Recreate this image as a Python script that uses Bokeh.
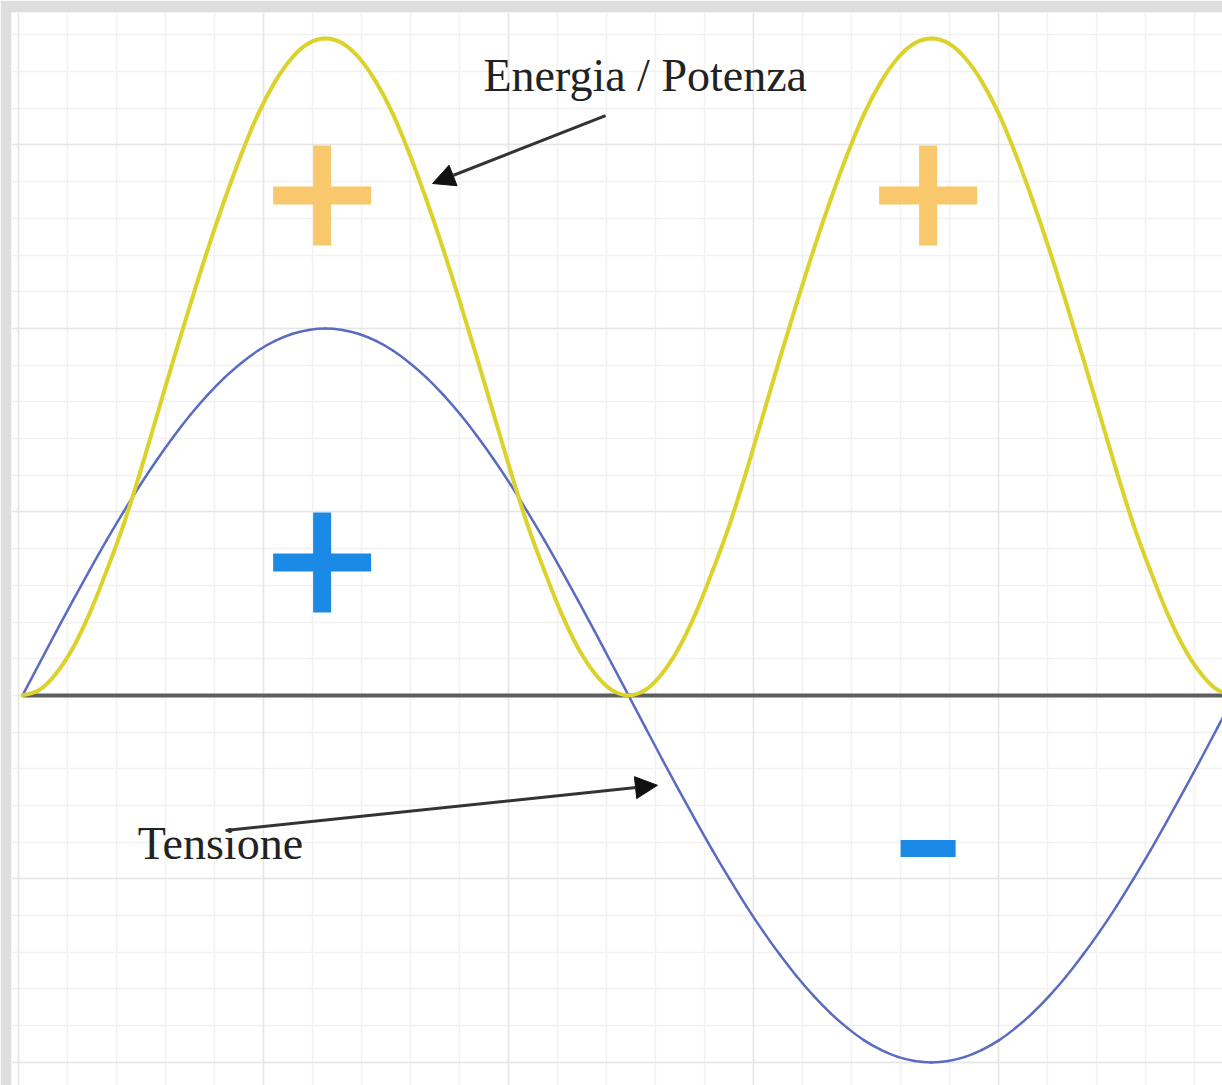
from bokeh.plotting import figure
from bokeh.models import Range1d, Grid, FixedTicker, Arrow, NormalHead, Label
from bokeh.embed import file_html
from bokeh.resources import INLINE
import numpy as np

# phase angle in degrees
angle_deg = list(range(0, 361, 5))

# voltage (tensione), one full period
tensione = [
    0.000, 0.087, 0.174, 0.259, 0.342, 0.423, 0.500, 0.574, 0.643, 0.707,
    0.766, 0.819, 0.866, 0.906, 0.940, 0.966, 0.985, 0.996, 1.000,
    0.996, 0.985, 0.966, 0.940, 0.906, 0.866, 0.819, 0.766, 0.707, 0.643,
    0.574, 0.500, 0.423, 0.342, 0.259, 0.174, 0.087, 0.000,
    -0.087, -0.174, -0.259, -0.342, -0.423, -0.500, -0.574, -0.643, -0.707,
    -0.766, -0.819, -0.866, -0.906, -0.940, -0.966, -0.985, -0.996, -1.000,
    -0.996, -0.985, -0.966, -0.940, -0.906, -0.866, -0.819, -0.766, -0.707,
    -0.643, -0.574, -0.500, -0.423, -0.342, -0.259, -0.174, -0.087, 0.000,
]

# energy / power, always positive
energia = [
    0.000, 0.015, 0.060, 0.130, 0.225, 0.340, 0.465, 0.610, 0.765, 0.920,
    1.070, 1.215, 1.350, 1.475, 1.585, 1.672, 1.737, 1.777, 1.790,
    1.777, 1.737, 1.672, 1.585, 1.475, 1.350, 1.215, 1.070, 0.920, 0.765,
    0.610, 0.465, 0.340, 0.225, 0.130, 0.060, 0.015, 0.000,
    0.015, 0.060, 0.130, 0.225, 0.340, 0.465, 0.610, 0.765, 0.920,
    1.070, 1.215, 1.350, 1.475, 1.585, 1.672, 1.737, 1.777, 1.790,
    1.777, 1.737, 1.672, 1.585, 1.475, 1.350, 1.215, 1.070, 0.920, 0.765,
    0.610, 0.465, 0.340, 0.225, 0.130, 0.060, 0.015, 0.000,
]

# sign markers: (angle, level, kind, colour)
sign_x = [89, 269, 89, 269]
sign_y = [1.362, 1.362, 0.362, -0.417]
sign_kind = ["+", "+", "+", "-"]
sign_color = ["#f9c76c", "#f9c76c", "#1b8ae6", "#1b8ae6"]


def smooth_segments(xs, ys):
    """Cubic Bezier pieces (Catmull-Rom) passing through every sample."""
    xs = np.asarray(xs, dtype=float)
    ys = np.asarray(ys, dtype=float)
    n = len(xs)
    x0, y0, x1, y1, cx0, cy0, cx1, cy1 = ([] for _ in range(8))
    for i in range(n - 1):
        im1 = max(i - 1, 0)
        ip2 = min(i + 2, n - 1)
        x0.append(xs[i]); y0.append(ys[i])
        x1.append(xs[i + 1]); y1.append(ys[i + 1])
        cx0.append(xs[i] + (xs[i + 1] - xs[im1]) / 6)
        cy0.append(ys[i] + (ys[i + 1] - ys[im1]) / 6)
        cx1.append(xs[i + 1] - (xs[ip2] - xs[i]) / 6)
        cy1.append(ys[i + 1] - (ys[ip2] - ys[i]) / 6)
    return dict(x0=x0, y0=y0, x1=x1, y1=y1, cx0=cx0, cy0=cy0, cx1=cx1, cy1=cy1)


p = figure(
    width=1222, height=1085,
    x_range=Range1d(-3.27, 356.44), y_range=Range1d(-1.063, 1.861),
    x_axis_type=None, y_axis_type=None,
    toolbar_location=None, output_backend="svg",
    min_border_left=11, min_border_top=12, min_border_right=0, min_border_bottom=0,
    border_fill_color="#dedede", background_fill_color="white",
    outline_line_color=None,
)

# graph-paper grid
minor_x = list(np.arange(-1.19, 360, 14.555))
major_x = list(np.arange(-1.19, 364, 72.78))
minor_y = [round(v, 2) for v in np.arange(-1.0, 1.85, 0.1)]
major_y = [-1.0, -0.5, 0.5, 1.0, 1.5]
p.add_layout(Grid(dimension=0, ticker=FixedTicker(ticks=minor_x),
                  grid_line_color="#f1f1f1", grid_line_width=1.5))
p.add_layout(Grid(dimension=1, ticker=FixedTicker(ticks=minor_y),
                  grid_line_color="#f1f1f1", grid_line_width=1.5))
p.add_layout(Grid(dimension=0, ticker=FixedTicker(ticks=major_x),
                  grid_line_color="#e6e6e6", grid_line_width=1.5))
p.add_layout(Grid(dimension=1, ticker=FixedTicker(ticks=major_y),
                  grid_line_color="#e6e6e6", grid_line_width=1.5))

# zero axis
p.segment(x0=[angle_deg[0]], y0=[0], x1=[angle_deg[-1]], y1=[0],
          line_color="#5e5e5e", line_width=4)

# curves
p.bezier(**smooth_segments(angle_deg, tensione),
         line_color="#5a6bc2", line_width=2.5, line_cap="round")
p.bezier(**smooth_segments(angle_deg, energia),
         line_color="#dcd22c", line_width=4, line_cap="round")

# + / - signs
for x, y, kind, c in zip(sign_x, sign_y, sign_kind, sign_color):
    if kind == "+":
        p.rect(x=[x], y=[y], width=98, height=18, width_units="screen",
               height_units="screen", fill_color=c, line_color=None)
        p.rect(x=[x], y=[y], width=18, height=100, width_units="screen",
               height_units="screen", fill_color=c, line_color=None)
    else:
        p.rect(x=[x], y=[y], width=55, height=17, width_units="screen",
               height_units="screen", fill_color=c, line_color=None)

# annotations
p.add_layout(Label(x=136.9, y=1.690, text="Energia / Potenza",
                   text_font="Liberation Serif", text_font_size="46px",
                   text_color="#222222", text_baseline="alphabetic"))
p.add_layout(Label(x=34.2, y=-0.403, text="Tensione",
                   text_font="Liberation Serif", text_font_size="46px",
                   text_color="#222222", text_baseline="alphabetic"))

p.add_layout(Arrow(end=NormalHead(size=22, fill_color="#111111", line_color="#111111"),
                   x_start=173.2, y_start=1.580, x_end=121.8, y_end=1.395,
                   line_color="#333333", line_width=3))
p.add_layout(Arrow(end=NormalHead(size=22, fill_color="#111111", line_color="#111111"),
                   x_start=60.3, y_start=-0.368, x_end=188.6, y_end=-0.245,
                   line_color="#333333", line_width=3))

open("out.html", "w").write(file_html(p, INLINE))
